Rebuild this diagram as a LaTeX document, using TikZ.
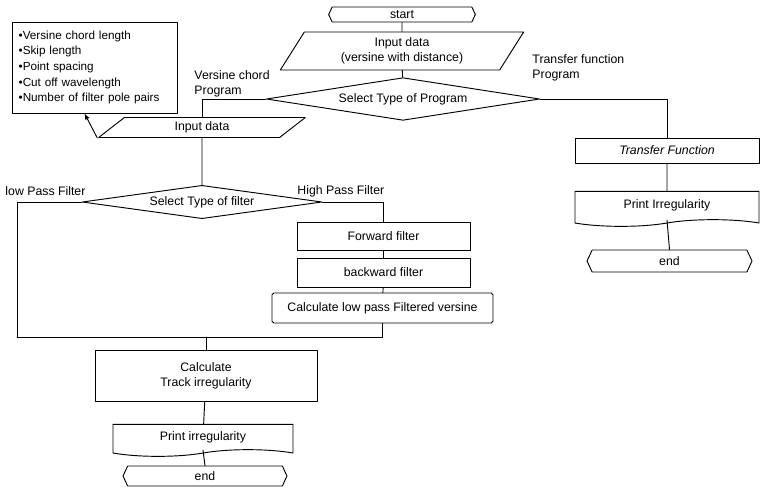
\documentclass[tikz,border=0pt]{standalone}
\usepackage{fontspec}
\setmainfont{Liberation Sans}
\usepackage{tikz}
\usetikzlibrary{shapes.geometric,shapes.symbols}

\begin{document}
\begin{tikzpicture}[x=0.03cm, y=-0.03cm, line cap=round, line join=round, line width=0.8pt,
    every node/.style={font=\fontsize{10.5}{13}\selectfont},
    term/.style={signal, signal to=west and east, signal pointer angle=130, draw, inner sep=0pt},
    io/.style={trapezium, trapezium stretches body, draw, inner sep=0pt},
    box/.style={rectangle, draw, inner sep=0pt, align=center},
    doc/.style={tape, tape bend top=none, tape bend bottom=in and out, tape bend height=0.2cm, draw, inner sep=0pt},
    choice/.style={diamond, draw, inner sep=0pt}]
    \useasboundingbox (0,0) rectangle (761,492);

    % Nodes
    \node[term, minimum width=4.4cm, minimum height=0.45cm] (start) at (402,14.5) {start};
    \node[io, trapezium left angle=48, trapezium right angle=132, minimum width=7.3cm, minimum height=1.14cm, align=center] (in1) at (402,51) {Input data\\(versine with distance)};
    \node[choice, aspect=9, minimum width=8.2cm, minimum height=1.28cm] (prog) at (403,99) {Select Type of Program};
    \node[io, trapezium left angle=24, trapezium right angle=156, minimum width=6.2cm, minimum height=0.6cm] (in2) at (202,127.5) {Input data};
    \node[box, minimum width=4.95cm, minimum height=2.73cm, text width=4.55cm, align=left,
        font=\fontsize{10}{13.4}\selectfont] (params) at (94.5,67.5)
        {•Versine chord length\\•Skip length\\•Point spacing\\•Cut off wavelength\\•Number of filter pole pairs};
    \node[choice, aspect=10, minimum width=7.2cm, minimum height=1cm] (filter) at (202,202) {Select Type of filter};
    \node[box, minimum width=5.19cm, minimum height=0.84cm] (fwd) at (383.5,236) {Forward filter};
    \node[box, minimum width=5.19cm, minimum height=0.87cm] (bwd) at (383.5,272.5) {backward filter};
    \node[box, rounded corners=1.5pt, minimum width=6.63cm, minimum height=0.9cm] (lowpass) at (382.5,308) {Calculate low pass Filtered versine};
    \node[box, minimum width=6.66cm, minimum height=1.53cm] (track) at (206,375.5) {Calculate\\Track irregularity};
    \node[doc, minimum width=5.4cm, minimum height=0.96cm] (print1) at (203,437) {Print irregularity};
    \node[term, minimum width=4.92cm, minimum height=0.6cm] (end1) at (205,476) {end};
    \node[box, minimum width=5.52cm, minimum height=0.75cm, font=\fontsize{10.5}{13}\selectfont\itshape] (transfer) at (667,150.5) {Transfer Function};
    \node[doc, minimum width=5.52cm, minimum height=1.05cm] (print2) at (667,205.5) {Print Irregularity};
    \node[term, minimum width=4.95cm, minimum height=0.66cm] (end2) at (669.5,261) {end};

    % Branch labels
    \node[anchor=north west, align=left, inner sep=0pt] (lblvc) at (194,70) {Versine chord\\Program};
    \node[anchor=north west, align=left, inner sep=0pt] (lbltf) at (532,54) {Transfer function\\Program};
    \node[anchor=west, inner sep=0pt] (lbllp) at (5,191) {low Pass Filter};
    \node[anchor=west, inner sep=0pt] (lblhp) at (297,191) {High Pass Filter};

    \coordinate (lpcorner) at (17,337);
    \coordinate (merge) at (206,337);

    % Connections
    \draw (start) -- (in1);
    \draw (in1) -- (prog);
    \draw (prog.west) -| (in2.north);
    \draw (prog.east) -| (transfer.north);
    \draw (transfer) -- (print2);
    \draw (print2.south) -- (end2.north);
    \draw[-latex] (in2.bottom left corner) -- ([xshift=-0.3cm]params.south);
    \draw (in2) -- (filter);
    \draw (filter.west) -| (lpcorner);
    \draw (filter.east) -| (fwd.north);
    \draw (fwd) -- (bwd);
    \draw (bwd) -- (lowpass);
    \draw (lowpass.south) |- (lpcorner);
    \draw (merge) -- (track.north);
    \draw (track) -- (print1);
    \draw (print1.south) -- (end1.north);
  \end{tikzpicture}
\end{document}
